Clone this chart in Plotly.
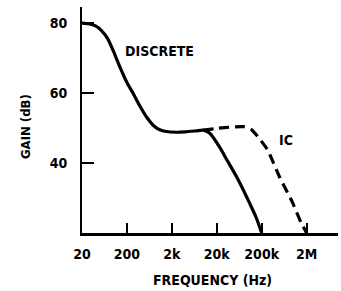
import plotly.graph_objects as go

# Data
discrete_freq = [20, 28, 40, 55, 75, 100, 140, 200, 272, 400, 556, 800, 1080, 1500, 2500, 4000, 7000, 10000, 14000, 23000, 35000, 55600, 80000, 107000, 150000, 200000]
discrete_gain = [80, 79.8, 79.2, 77.8, 75.5, 72.0, 67.4, 63.0, 60.0, 56.0, 53.0, 50.6, 49.5, 49.0, 48.8, 48.9, 49.2, 49.4, 48.5, 44.6, 40.5, 36.0, 32.0, 28.6, 24.5, 20]

ic_freq = [10000, 20000, 45000, 80000, 115000, 163000, 272000, 500000, 980000, 1500000, 2000000]
ic_gain = [49.4, 49.9, 50.3, 50.4, 49.7, 47.6, 43.7, 36, 28.6, 23.0, 20]

x_tickvals = [20, 200, 2000, 20000, 200000, 2000000]
x_ticktext = ["20", "200", "2k", "20k", "200k", "2M"]
y_tickvals = [40, 60, 80]
y_ticktext = ["40", "60", "80"]

FONT = "DejaVu Sans Condensed, Liberation Sans Narrow, sans-serif"

fig = go.Figure()
fig.add_trace(go.Scatter(x=discrete_freq, y=discrete_gain, mode="lines",
                         line=dict(color="black", width=3.2, shape="spline", smoothing=0.6),
                         showlegend=False, hoverinfo="skip"))
fig.add_trace(go.Scatter(x=ic_freq, y=ic_gain, mode="lines",
                         line=dict(color="black", width=3.2, dash="10px,6px", shape="spline", smoothing=0.6),
                         showlegend=False, hoverinfo="skip"))

fig.add_annotation(x=2.21, y=72.0, xref="x", yref="y", text="<b>DISCRETE</b>",
                   showarrow=False, xanchor="left", yanchor="middle", font=dict(family=FONT, size=14, color="black"))
fig.add_annotation(x=5.64, y=46.6, xref="x", yref="y", text="<b>IC</b>",
                   showarrow=False, xanchor="left", yanchor="middle", font=dict(family=FONT, size=14, color="black"))

# Axis titles (pixel positions converted to paper coordinates below)
fig.add_annotation(x=212, y=280, xref="paper", yref="paper", text="<b>FREQUENCY (Hz)</b>",
                   showarrow=False, xanchor="center", yanchor="middle", font=dict(family=FONT, size=14, color="black"))
fig.add_annotation(x=25, y=127, xref="paper", yref="paper", text="<b>GAIN (dB)</b>", textangle=-90,
                   showarrow=False, xanchor="center", yanchor="middle", font=dict(family=FONT, size=13, color="black"))

L, R, T, B = 82, 3, 7, 58
W, H = 341, 291
pw, ph = W - L - R, H - T - B
for a in fig.layout.annotations[2:]:
    a.x = (a.x - L) / pw
    a.y = 1 - (a.y - T) / ph

fig.update_layout(
    width=W, height=H,
    margin=dict(l=L, r=R, t=T, b=B),
    plot_bgcolor="white", paper_bgcolor="white",
    font=dict(family=FONT, size=14, color="black"),
    xaxis=dict(type="log", range=[1.301, 7.0], tickvals=x_tickvals, ticktext=[f"<b>{t}</b>" for t in x_ticktext],
               showgrid=False, zeroline=False, showline=True, linecolor="black", linewidth=3,
               ticks="inside", ticklen=10, tickwidth=1.5, tickcolor="black", ticklabelstandoff=6,
               automargin=False),
    yaxis=dict(range=[20, 84.6], tickvals=y_tickvals, ticktext=[f"<b>{t}</b>" for t in y_ticktext],
               showgrid=False, zeroline=False, showline=True, linecolor="black", linewidth=2,
               ticks="inside", ticklen=12, tickwidth=1.5, tickcolor="black", ticklabelstandoff=10,
               automargin=False),
)

fig.write_html("out.html", config={"displayModeBar": False},
               post_script="document.body.style.margin='0';document.body.style.overflow='hidden';")
